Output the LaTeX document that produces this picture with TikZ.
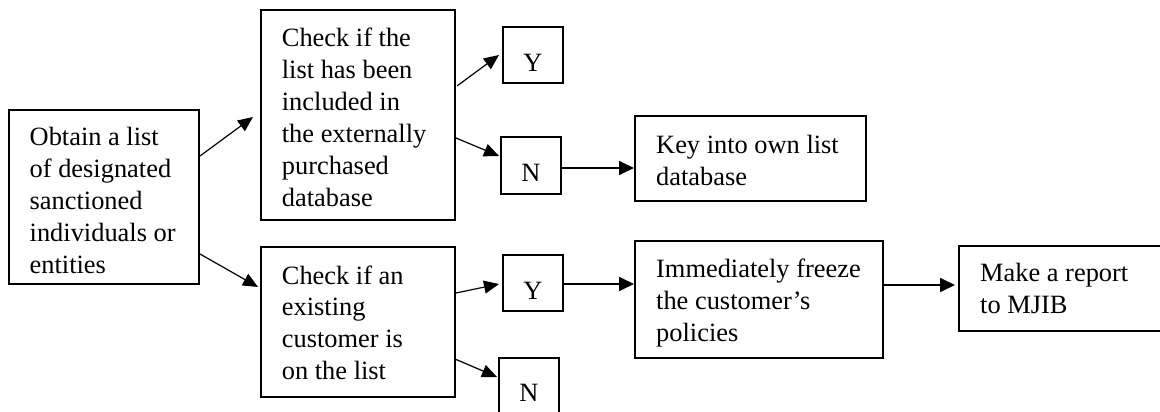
\documentclass[tikz,border=0pt]{standalone}
\usepackage{fontspec}
\setmainfont{Liberation Serif}
\usetikzlibrary{arrows.meta}
\tikzset{
  box/.style={draw=black, line width=1.7pt, rectangle, inner sep=0pt, outer sep=0pt, anchor=north west},
  txt/.style={anchor=base west, inner sep=0pt, align=left, font=\fontsize{26.4pt}{31.9pt}\selectfont},
  lbl/.style={anchor=base, inner sep=0pt, font=\fontsize{26.4pt}{31.9pt}\selectfont},
  arr/.style={line width=1.2pt, -{Triangle[length=15pt,width=13pt]}},
  harr/.style={line width=1.8pt, -{Triangle[length=15pt,width=14pt]}},
}
\newcommand\mylines[1]{\begin{tabular}[t]{@{}l@{}}#1\end{tabular}}
\begin{document}
\begin{tikzpicture}[x=1pt,y=-1pt]
\useasboundingbox (0,0) rectangle (1160,412);
\clip (0,0) rectangle (1160,412);
% boxes
\node[box, minimum width=190pt, minimum height=174pt] (obtain) at (9,110) {};
\node[box, minimum width=194pt, minimum height=210pt] (chk1) at (261,10) {};
\node[box, minimum width=194pt, minimum height=150pt] (chk2) at (261,247) {};
\node[box, minimum width=60pt, minimum height=56pt] (y1) at (503,27) {};
\node[box, minimum width=60pt, minimum height=57pt] (n1) at (501,137) {};
\node[box, minimum width=231pt, minimum height=85pt] (key) at (635,116) {};
\node[box, minimum width=60pt, minimum height=56pt] (y2) at (503,255) {};
\node[box, minimum width=60pt, minimum height=58pt] (n2) at (499,358) {};
\node[box, minimum width=248pt, minimum height=117pt] (freeze) at (635,241) {};
\node[box, minimum width=230pt, minimum height=85pt] (report) at (959,246) {};
% texts
\node[txt] (obtaint) at ([shift={(20.5,36)}]obtain.north west) {\mylines{Obtain a list\\of designated\\sanctioned\\individuals or\\entities}};
\node[txt] (chk1t) at ([shift={(20.7,36.7)}]chk1.north west) {\mylines{Check if the\\list has been\\included in\\the externally\\purchased\\database}};
\node[txt] (chk2t) at ([shift={(20.7,37)}]chk2.north west) {\mylines{Check if an\\existing\\customer is\\on the list}};
\node[txt] (keyt) at ([shift={(21,37.3)}]key.north west) {\mylines{Key into own list\\database}};
\node[txt] (freezet) at ([shift={(21,36.7)}]freeze.north west) {\mylines{Immediately freeze\\the customer’s\\policies}};
\node[txt] (reportt) at ([shift={(21,35.7)}]report.north west) {\mylines{Make a report\\to MJIB}};
\node[lbl] (y1t) at ([shift={(0,44.7)}]y1.north) {Y};
\node[lbl] (n1t) at ([shift={(0,44.7)}]n1.north) {N};
\node[lbl] (y2t) at ([shift={(0,44)}]y2.north) {Y};
\node[lbl] (n2t) at ([shift={(0,43.7)}]n2.north) {N};
% connectors
\draw[arr] ([shift={(1,46)}]obtain.north east) -- ([shift={(-8,107)}]chk1.north west);
\draw[arr] ([shift={(1,144)}]obtain.north east) -- ([shift={(-3,40)}]chk2.north west);
\draw[arr] ([shift={(2,76)}]chk1.north east) -- ([shift={(-4,28)}]y1.north west);
\draw[arr] ([shift={(1,128)}]chk1.north east) -- ([shift={(-2,19)}]n1.north west);
\coordinate (a5) at ([shift={(0,2.5)}]n1.east);
\draw[harr] (a5) -- ([shift={(-1,0)}]key.west |- a5);
\draw[arr] ([shift={(1,46)}]chk2.north east) -- ([shift={(-4,29)}]y2.north west);
\draw[arr] ([shift={(0,112)}]chk2.north east) -- ([shift={(-2,19)}]n2.north west);
\coordinate (a8) at ([shift={(0,1)}]y2.east);
\draw[harr] (a8) -- ([shift={(-1,0)}]freeze.west |- a8);
\coordinate (a9) at ([shift={(0,-14.5)}]freeze.east);
\draw[harr] (a9) -- ([shift={(-4,0)}]report.west |- a9);
\end{tikzpicture}
\end{document}
